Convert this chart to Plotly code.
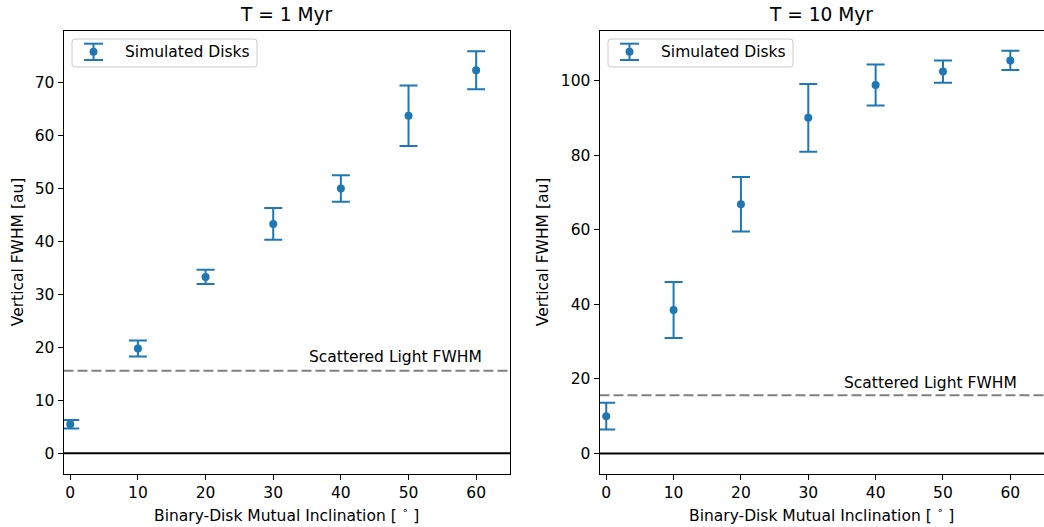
import plotly.graph_objects as go

W, H = 1044, 527

# Binary-disk mutual inclination (degrees)
inclination = [0, 10, 20, 30, 40, 50, 60]

# Vertical FWHM of the simulated disks after 1 Myr and 10 Myr (au)
fwhm_1myr = [5.5, 19.8, 33.3, 43.3, 50.0, 63.7, 72.3]
err_1myr = [0.8, 1.5, 1.35, 3.0, 2.5, 5.7, 3.6]
fwhm_10myr = [10.0, 38.5, 66.9, 90.1, 98.9, 102.5, 105.5]
err_10myr = [3.6, 7.5, 7.3, 9.1, 5.5, 3.0, 2.6]

# Observed scattered-light FWHM (au)
scattered_fwhm = 15.6

x_ticks = [0, 10, 20, 30, 40, 50, 60]
y_ticks_1myr = [0, 10, 20, 30, 40, 50, 60, 70]
y_ticks_10myr = [0, 20, 40, 60, 80, 100]

panel_titles = ["T = 1 Myr", "T = 10 Myr"]
x_label = "Binary-Disk Mutual Inclination [ <sup>∘</sup> ]"
y_label = "Vertical FWHM [au]"
legend_label = "Simulated Disks"
line_label = "Scattered Light FWHM"

BLUE = "#1f77b4"
FONT = "DejaVu Sans"
FS = 15.5


def px(x):
    return x / W


def py(y):
    return 1 - y / H


# panel boxes in pixels: (left, right, top, bottom)
panels = [(63.5, 510.0, 31.0, 473.5), (599.5, 1044.0, 31.0, 473.5)]

fig = go.Figure()

series = [(fwhm_1myr, err_1myr), (fwhm_10myr, err_10myr)]
for i, (vals, errs) in enumerate(series):
    sfx = "" if i == 0 else "2"
    fig.add_trace(go.Scatter(
        x=inclination, y=vals, mode="markers",
        marker=dict(color=BLUE, size=8),
        error_y=dict(type="data", array=errs, color=BLUE, thickness=2, width=9),
        xaxis="x" + sfx, yaxis="y" + sfx, showlegend=False,
    ))

axis_common = dict(
    showgrid=False, zeroline=False, showline=True, linecolor="black", linewidth=1,
    ticks="outside", ticklen=5, tickwidth=1, tickcolor="black",
    tickfont=dict(family=FONT, size=FS, color="black"),
)

y_ranges = [[-3.8, 79.7], [-5.4, 113.4]]
y_tick_sets = [y_ticks_1myr, y_ticks_10myr]

layout = dict(
    width=W, height=H, margin=dict(l=0, r=0, t=0, b=0),
    paper_bgcolor="white", plot_bgcolor="white",
    font=dict(family=FONT, size=FS, color="black"),
)

for i, (l, r, t, b) in enumerate(panels):
    sfx = "" if i == 0 else "2"
    layout["xaxis" + sfx] = dict(
        axis_common, domain=[px(l), min(px(r), 1.0)], range=[-1, 65],
        tickvals=x_ticks, anchor="y" + sfx, mirror=True,
    )
    layout["yaxis" + sfx] = dict(
        axis_common, domain=[py(b), py(t)], range=y_ranges[i],
        tickvals=y_tick_sets[i], anchor="x" + sfx, mirror=(i == 0),
    )

fig.update_layout(**layout)

shapes = []
annotations = []

for i, (l, r, t, b) in enumerate(panels):
    sfx = "" if i == 0 else "2"
    xr = "x" + sfx
    yr = "y" + sfx
    cx = (l + r) / 2 if i == 0 else 821

    # zero line and scattered-light reference line
    shapes.append(dict(type="line", xref=xr + " domain", yref=yr, x0=0, x1=1,
                       y0=0, y1=0, line=dict(color="black", width=2), layer="below"))
    shapes.append(dict(type="line", xref=xr + " domain", yref=yr, x0=0, x1=1,
                       y0=scattered_fwhm, y1=scattered_fwhm,
                       line=dict(color="#808080", width=2, dash="10px,4px"), layer="below"))
    annotations.append(dict(x=35, y=16.9, xref=xr, yref=yr, text=line_label,
                            showarrow=False, xanchor="left", yanchor="bottom", yshift=-4,
                            font=dict(family=FONT, size=FS, color="black")))

    # titles and axis labels
    annotations.append(dict(x=px(cx), y=py(15), xref="paper", yref="paper",
                            text=panel_titles[i], showarrow=False,
                            xanchor="center", yanchor="middle",
                            font=dict(family=FONT, size=18.6, color="black")))
    annotations.append(dict(x=px(cx), y=py(514), xref="paper", yref="paper",
                            text=x_label, showarrow=False,
                            xanchor="center", yanchor="middle",
                            font=dict(family=FONT, size=FS, color="black")))
    annotations.append(dict(x=px(18 if i == 0 else 543), y=py((t + b) / 2),
                            xref="paper", yref="paper", text=y_label, textangle=-90,
                            showarrow=False, xanchor="center", yanchor="middle",
                            font=dict(family=FONT, size=FS, color="black")))

    # legend box with an error-bar glyph
    lx0 = l + 8.5
    lx1 = lx0 + 185
    ly0, ly1 = 39, 67
    rad = 3
    path = (
        f"M {px(lx0 + rad)},{py(ly0)} L {px(lx1 - rad)},{py(ly0)} "
        f"Q {px(lx1)},{py(ly0)} {px(lx1)},{py(ly0 + rad)} "
        f"L {px(lx1)},{py(ly1 - rad)} Q {px(lx1)},{py(ly1)} {px(lx1 - rad)},{py(ly1)} "
        f"L {px(lx0 + rad)},{py(ly1)} Q {px(lx0)},{py(ly1)} {px(lx0)},{py(ly1 - rad)} "
        f"L {px(lx0)},{py(ly0 + rad)} Q {px(lx0)},{py(ly0)} {px(lx0 + rad)},{py(ly0)} Z"
    )
    shapes.append(dict(type="path", xref="paper", yref="paper", path=path,
                       line=dict(color="#cccccc", width=1),
                       fillcolor="rgba(255,255,255,0.8)"))
    gx = lx0 + 21.5
    gy0, gy1, gym = 43.7, 60.0, 51.7
    shapes.append(dict(type="line", xref="paper", yref="paper",
                       x0=px(gx), x1=px(gx), y0=py(gy0), y1=py(gy1),
                       line=dict(color=BLUE, width=2)))
    for gy in (gy0, gy1):
        shapes.append(dict(type="line", xref="paper", yref="paper",
                           x0=px(gx - 9.5), x1=px(gx + 9.5), y0=py(gy), y1=py(gy),
                           line=dict(color=BLUE, width=2)))
    shapes.append(dict(type="circle", xref="paper", yref="paper",
                       x0=px(gx - 4), x1=px(gx + 4), y0=py(gym + 4), y1=py(gym - 4),
                       line=dict(color=BLUE, width=0), fillcolor=BLUE))
    annotations.append(dict(x=px(lx0 + 51), y=py(52), xref="paper", yref="paper",
                            text=legend_label, showarrow=False,
                            xanchor="left", yanchor="middle",
                            font=dict(family=FONT, size=FS, color="black")))

fig.update_layout(shapes=shapes, annotations=annotations)

fig.write_html("out.html")
